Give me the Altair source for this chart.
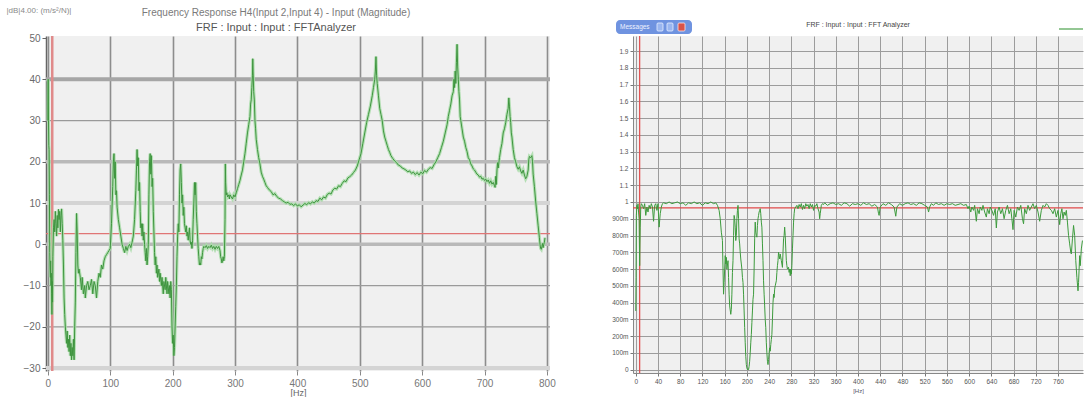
import altair as alt
import pandas as pd

# ---------------- data: left panel (FRF magnitude, dB) ----------------
left_freq = [0, 0.5, 1, 1.5, 2, 2.5, 3, 3.5, 4, 4.5, 5, 5.5, 6, 6.5, 7, 7.5, 8, 9, 10, 11, 12, 13, 14, 15, 16, 17, 18, 19, 20,
             21, 22, 23, 24, 25, 26, 27, 28, 29, 30, 31, 32, 33, 34, 35, 36, 37, 38, 39, 40, 41, 42, 43, 44, 45, 46, 47, 48,
             49, 50, 52, 54, 55, 57, 59, 60, 62, 64, 66, 68, 70, 72, 74, 76, 78, 80, 82, 84, 86, 88, 90, 92, 94, 96, 98, 100,
             102, 104, 105, 106, 107, 108, 109, 110, 111, 113, 115, 117, 119, 121, 123, 125, 127, 129, 131, 133, 135, 137, 139,
             141, 142, 143, 144, 145, 146, 147, 148, 149, 150, 151, 152, 153, 154, 155, 156, 157, 158, 159, 160, 161, 162, 163,
             164, 165, 166, 167, 168, 169, 170, 171, 172, 173, 174, 175, 176, 178, 179, 180, 182, 183, 185, 186, 188, 189, 191,
             192, 194, 195, 196, 197, 198, 199, 200, 201, 202, 203, 204, 205, 206, 207, 208, 209, 210, 211, 212, 213, 214, 215,
             216, 217, 218, 219, 220, 221, 222, 223, 224, 225, 226, 227, 228, 229, 230, 231, 232, 233, 234, 235, 236, 237, 238,
             239, 240, 241, 242, 243, 244, 245, 246, 247, 248, 249, 250, 252, 254, 256, 258, 260, 262, 264, 266, 268, 270, 272,
             274, 276, 277, 278, 279, 280, 281, 282, 283, 284, 284.5, 285, 286, 287, 288, 290, 291, 292, 294, 296, 298, 300,
             302, 304, 306, 308, 310, 312, 314, 316, 318, 320, 322, 324, 325, 326, 327, 328, 328.5, 329, 330, 331, 332, 333,
             334, 336, 338, 340, 342, 344, 346, 348, 350, 352, 355, 358, 361, 364, 367, 370, 373, 376, 379, 382, 385, 388, 391,
             394, 397, 400, 403, 406, 409, 412, 415, 418, 421, 424, 427, 430, 433, 436, 439, 442, 445, 448, 451, 454, 457, 460,
             463, 466, 469, 472, 475, 478, 481, 484, 487, 490, 493, 496, 499, 502, 505, 508, 511, 514, 517, 520, 522, 524, 525,
             526, 527, 528, 530, 532, 534, 536, 538, 540, 542, 544, 546, 548, 550, 553, 556, 559, 562, 565, 568, 571, 574, 577,
             580, 583, 586, 589, 592, 595, 598, 601, 604, 607, 610, 613, 616, 619, 622, 625, 628, 631, 634, 637, 640, 642, 644,
             646, 648, 650, 651, 652, 653, 654, 655, 656, 657, 658, 659, 660, 661, 662, 664, 666, 668, 670, 672, 674, 676, 678,
             680, 682, 684, 686, 688, 690, 692, 694, 696, 698, 700, 702, 704, 706, 708, 710, 712, 714, 716, 717, 718, 719, 720,
             721, 722, 724, 726, 728, 730, 732, 734, 736, 738, 739, 740, 741, 742, 743, 744, 746, 748, 750, 752, 754, 756, 758,
             760, 762, 764, 766, 768, 770, 771, 772, 774, 776, 777, 778, 780, 782, 784, 786, 788, 789, 790, 791, 792, 793, 794,
             795, 796, 797]
left_db = [30, 40, 30, 24, 23, 12, -2, -6, -8, -4, -10, -7, -12, -17, -9, -14, -3, 4, 6, 3, 8, 5, 2, 7, 4, 8.5, 6, 8, 3,
           7, 8.6, 5, 1, -5, -13, -17, -20, -22, -24, -21, -25, -23, -26, -22, -27, -24, -28, -25, -27, -23, -28, -20, -14, -2, 7.5, 3, -5,
           -7, -6, -8, -11, -8, -12, -10, -13, -10, -9, -11, -10, -8.5, -12, -9, -10, -13, -9, -7, -8, -5, -6, -4, -3, -2.5, -2, -1.5, -1,
           5, 14, 20, 22, 16, 20, 12, 13, 9, 6, 4, 2, 0, -1, -2, -0.5, -1.5, -0.5, 0, -0.8, 0.5, 2, 6,
           13, 18, 23, 19, 21, 13, 15, 8, 4, 5, 2, 5, 1, 3, 0, -2, -4, -1, -5, -3, 0, 12, 20,
           22, 17, 21.5, 14, 16, 8, 3, -2, -5, -3, -7, -5, -8, -6, -9, -7, -10, -8, -12, -9, -11, -8, -12,
           -9, -12, -10, -13, -9, -11, -20, -24, -22, -27, -25, -20, -15, -10, -3, 2, 5, 3, 12, 18, 19.5, 15, 10,
           12, 7, 9, 5, 4, 3, 4.5, 2, 3, 1, 2.5, 4, 1, 0, 0.5, -1, 1, 6, 10, 15, 12, 15, 8,
           5, 2, -1, -3, -5, -4.5, -5, -3, -3.5, -2, -1, -0.5, -0.8, -0.3, -1, -0.5, -0.8, -0.2, -1, -0.5, -1.2, -0.5, -1,
           -0.5, -1.5, -3, -3.5, -4.5, -4, -3, -4, -3, 6, 19.5, 15, 12, 12.5, 11.5, 12, 11, 12, 11.5, 11, 12, 11.5,
           12.5, 13.5, 14.5, 15.5, 16.8, 18, 20, 22, 24.5, 27, 29, 31, 34, 35, 38, 41, 45, 42, 37, 35, 30, 28,
           25.5, 23, 21, 19.5, 17.5, 16.5, 15.8, 15, 14.2, 13.8, 13.2, 12.8, 12, 12.3, 11.6, 11.2, 11, 10.6, 10.3, 10, 10.2, 9.7, 9.8,
           9.4, 9.8, 9.3, 9.6, 9.1, 9.5, 9.9, 9.6, 10.1, 9.8, 10.3, 10, 10.6, 10.4, 11.2, 10.8, 11.5, 11.2, 12.1, 12.4, 12.2, 13.2, 13.6,
           13.4, 14.2, 14, 14.8, 15.4, 15.2, 16.1, 16.4, 16.8, 17.4, 18, 19, 20.5, 22, 24.5, 27, 29.5, 31.5, 33.5, 36, 38, 40, 42,
           45.5, 41, 39, 36, 33, 31.5, 30, 27.5, 26, 25, 24, 23, 22.3, 21.5, 20.8, 20.2, 19.8, 19.2, 19, 18.5, 18.3, 18, 17.6,
           17.8, 17.2, 17.5, 16.9, 17.4, 16.8, 17.5, 17.1, 17.9, 17.5, 18.2, 18.6, 18.4, 19.3, 20, 21, 22, 23.5, 25, 27, 29, 31, 32.5,
           34, 36, 37, 40, 38, 42, 39, 44, 48.5, 43, 40, 37, 35, 31, 30, 28, 26, 25, 23.5, 22.5, 21, 20.5, 19.5,
           19, 18.3, 18, 17.5, 17, 16.8, 16.3, 16.5, 15.8, 16, 15.5, 15.8, 15.2, 15.6, 14.8, 15.4, 14.6, 15, 14.2, 13.8, 16.5, 14.5, 18,
           19.8, 18.5, 21, 23, 24.5, 27, 28, 29.5, 31.5, 33, 35.5, 33.5, 31, 29.5, 27, 26, 23, 21, 20, 18.8, 18.2, 18.8, 17.8,
           17.2, 18, 16.8, 15.9, 16.5, 18, 20.5, 21.3, 21, 21.5, 20, 17, 14, 10.5, 7.5, 4.5, 1.6, 0, -1, -1.2, -0.5, 0.2, -0.8,
           0, 0.5, 1.6]

# ---------------- data: right panel (coherence) ----------------
right_freq = [0, 0.5, 1, 2, 3, 4, 5, 6, 7, 8, 9, 10, 12, 14, 16, 18, 20, 22, 24, 26, 28, 30, 32, 34, 36, 38, 40, 42, 44, 46,
              48, 50, 55, 60, 65, 70, 75, 80, 85, 90, 95, 100, 105, 110, 115, 120, 125, 130, 135, 140, 144, 147, 150, 152,
              154, 156, 157, 158, 159, 160, 161, 162, 163, 164, 166, 167, 168, 169, 171, 172, 173, 174, 175, 176, 177, 178,
              179, 180, 181, 182, 183, 184, 185, 186, 187, 188, 189, 190, 191, 192, 193, 194, 195, 196, 197, 198, 199, 200,
              201, 202, 203, 204, 205, 206, 207, 208, 209, 210, 211, 212, 213, 214, 215, 216, 217, 218, 219, 220, 221, 222,
              223, 224, 225, 226, 227, 228, 229, 230, 231, 232, 233, 234, 235, 236, 237, 238, 239, 240, 241, 242, 243, 244,
              245, 246, 247, 248, 249, 250, 251, 253, 254, 255, 256, 257, 258, 259, 260, 262, 264, 265, 266, 267, 268, 269,
              270, 271, 272, 273, 275, 276, 277, 278, 279, 280, 281, 282, 283, 284, 285, 286, 288, 290, 292, 294, 296, 298,
              300, 302, 304, 306, 308, 310, 312, 314, 316, 318, 320, 322, 324, 326, 328, 330, 331, 332, 334, 336, 338, 340,
              345, 350, 355, 360, 365, 370, 375, 380, 385, 390, 395, 400, 405, 410, 415, 420, 425, 430, 435, 437, 438, 440,
              445, 450, 455, 460, 465, 468, 470, 475, 480, 485, 490, 495, 500, 505, 510, 515, 520, 525, 527, 529, 532, 536,
              540, 545, 550, 555, 560, 565, 570, 575, 580, 585, 590, 595, 598, 600, 603, 605, 608, 610, 613, 615, 618, 620,
              623, 625, 628, 631, 633, 636, 638, 641, 644, 647, 649, 651, 654, 657, 660, 663, 666, 669, 672, 675, 677, 679,
              681, 684, 687, 690, 693, 696, 698, 700, 703, 706, 709, 712, 715, 718, 721, 724, 727, 730, 733, 736, 739, 742,
              745, 748, 751, 754, 757, 760, 763, 765, 767, 769, 771, 773, 775, 777, 779, 781, 783, 784, 786, 788, 790, 792,
              794, 796, 797, 798, 799, 800, 802, 804]
right_coh = [0.35, 0.55, 0.92, 0.98, 0.96, 0.99, 0.94, 0.9, 0.62, 0.85, 0.97, 0.99, 0.98, 0.96, 0.99, 0.92, 0.97, 0.94, 0.98,
             0.96, 0.99, 0.97, 0.885, 0.98, 0.99, 0.95, 0.99, 0.85, 0.93, 0.97, 0.99, 0.995, 0.99, 1.0, 0.99, 0.995, 1.0,
             0.99, 0.995, 0.98, 0.995, 0.99, 1.0, 0.99, 0.995, 0.98, 0.995, 0.99, 1.0, 0.99, 0.995, 0.98, 0.95, 0.9, 0.82,
             0.77, 0.6, 0.45, 0.52, 0.6, 0.68, 0.63, 0.67, 0.6, 0.65, 0.55, 0.45, 0.38, 0.33, 0.36, 0.45, 0.58, 0.65, 0.8,
             0.92, 0.9, 0.85, 0.77, 0.8, 0.9, 0.95, 0.98, 0.9, 0.78, 0.75, 0.7, 0.66, 0.63, 0.6, 0.55, 0.52, 0.45, 0.35, 0.25,
             0.16, 0.08, 0.03, 0.01, 0.0, 0.005, 0.0, 0.02, 0.05, 0.1, 0.16, 0.21, 0.28, 0.35, 0.42, 0.45, 0.6, 0.78, 0.88,
             0.82, 0.8, 0.79, 0.86, 0.9, 0.92, 0.94, 0.95, 0.96, 0.93, 0.88, 0.85, 0.75, 0.65, 0.53, 0.45, 0.38, 0.3, 0.25,
             0.16, 0.1, 0.05, 0.03, 0.06, 0.1, 0.13, 0.11, 0.15, 0.18, 0.21, 0.3, 0.4, 0.45, 0.43, 0.48, 0.5, 0.53, 0.58,
             0.62, 0.65, 0.7, 0.68, 0.66, 0.69, 0.65, 0.61, 0.7, 0.78, 0.8, 0.85, 0.8, 0.72, 0.65, 0.62, 0.6, 0.61, 0.58, 0.6,
             0.56, 0.6, 0.57, 0.62, 0.72, 0.8, 0.88, 0.93, 0.96, 0.97, 0.98, 0.96, 0.985, 0.97, 0.99, 0.955, 0.98, 0.96, 0.99,
             0.975, 0.985, 0.96, 0.99, 0.97, 0.985, 0.95, 0.98, 0.975, 0.99, 0.96, 0.94, 0.9, 0.93, 0.98, 0.99, 0.985, 0.995,
             0.98, 0.99, 0.995, 0.985, 0.99, 0.98, 0.995, 0.99, 0.975, 0.99, 0.985, 0.99, 0.98, 0.995, 0.985, 0.99, 0.975,
             0.985, 0.97, 0.93, 0.92, 0.97, 0.99, 0.98, 0.995, 0.985, 0.97, 0.915, 0.97, 0.99, 0.98, 0.99, 0.995, 0.985, 0.99,
             0.98, 0.995, 0.99, 0.98, 0.97, 0.94, 0.97, 0.99, 0.98, 0.995, 0.985, 0.99, 0.98, 0.99, 0.985, 0.99, 0.98, 0.985,
             0.99, 0.98, 0.985, 0.96, 0.975, 0.94, 0.97, 0.95, 0.98, 0.885, 0.96, 0.93, 0.97, 0.95, 0.98, 0.94, 0.91, 0.96,
             0.93, 0.97, 0.95, 0.92, 0.96, 0.845, 0.94, 0.97, 0.93, 0.96, 0.9, 0.95, 0.98, 0.93, 0.96, 0.9, 0.835, 0.95, 0.91,
             0.97, 0.95, 0.98, 0.9, 0.87, 0.96, 0.93, 0.98, 0.95, 0.97, 0.99, 0.96, 0.98, 0.94, 0.885, 0.95, 0.98, 0.97, 0.99,
             0.98, 0.96, 0.95, 0.93, 0.96, 0.91, 0.95, 0.865, 0.93, 0.96, 0.9, 0.94, 0.92, 0.95, 0.88, 0.8, 0.75, 0.7, 0.69,
             0.78, 0.86, 0.8, 0.65, 0.55, 0.47, 0.52, 0.6, 0.68, 0.62, 0.72, 0.77]

# ---------------- ticks, reference lines and labels ----------------
left_xticks = [0, 100, 200, 300, 400, 500, 600, 700, 800]
left_yticks = [-30, -20, -10, 0, 10, 20, 30, 40, 50]
left_grid_dark = [40]
left_grid_thick = [20, 0]
left_grid_band = [10, -30]
left_grid_thin = [30, -10, -20]
left_cursor_x = [7]
left_cursor_y = [2.6]

right_xticks = [0, 40, 80, 120, 160, 200, 240, 280, 320, 360, 400, 440, 480, 520, 560, 600, 640, 680, 720, 760]
right_yticks = [0, 0.1, 0.2, 0.3, 0.4, 0.5, 0.6, 0.7, 0.8, 0.9, 1.0, 1.1, 1.2, 1.3, 1.4, 1.5, 1.6, 1.7, 1.8, 1.9]
right_cursor_x = [7]
right_cursor_y = [0.965]

left_title = "Frequency Response H4(Input 2,Input 4) - Input (Magnitude)"
left_subtitle = "FRF : Input : Input : FFTAnalyzer"
left_unit = "|dB|4.00: (m/s²/N)|"
right_title = "FRF : Input : Input : FFT Analyzer"
window_label = ["Messages"]
series_name = ["FRF"]

FONT = "Liberation Sans"

# ---------------- left panel ----------------
lxs = alt.Scale(domain=[-3, 805], nice=False, zero=False)
lys = alt.Scale(domain=[-30.7, 50.5], nice=False, zero=False)

left_df = pd.DataFrame({"f": left_freq, "v": left_db})

x_axis_l = alt.Axis(values=left_xticks, title="[Hz]", titleFontSize=9, titleFontWeight="normal",
                    titleColor="#666", titlePadding=0, labelFontSize=10, labelColor="#777", labelPadding=3,
                    tickColor="#888", tickSize=4, domain=False, grid=True, gridColor="#8d8d8d", gridWidth=1.6)
y_axis_l = alt.Axis(values=left_yticks, title=left_unit, titleAngle=0, titleAlign="left", titleBaseline="middle",
                    titleX=-40, titleY=-26, titleFontSize=8, titleFontWeight="normal", titleColor="#8a8a8a",
                    labelFontSize=10, labelColor="#6a6a6a", tickColor="#666", tickSize=4, domainColor="#666",
                    domainWidth=1.5, grid=False)


def hrules(values, color, width):
    return alt.Chart(pd.DataFrame({"g": values})).mark_rule(color=color, strokeWidth=width).encode(
        y=alt.Y("g:Q", scale=lys, axis=y_axis_l))


left_base = alt.Chart(left_df).encode(
    x=alt.X("f:Q", scale=lxs, axis=x_axis_l),
    y=alt.Y("v:Q", scale=lys, axis=y_axis_l),
)

left_layers = [
    hrules(left_grid_band, "#d4d4d4", 4),
    hrules(left_grid_thin, "#9a9a9a", 1.2),
    hrules(left_grid_thick, "#b9b9b9", 3.5),
    hrules(left_grid_dark, "#a6a6a6", 4),
    alt.Chart(pd.DataFrame({"c": left_cursor_y})).mark_rule(color="#e07575", strokeWidth=1.3).encode(
        y=alt.Y("c:Q", scale=lys, axis=y_axis_l)),
    alt.Chart(pd.DataFrame({"c": left_cursor_x})).mark_rule(color="#e08a8a", strokeWidth=2.5).encode(
        x=alt.X("c:Q", scale=lxs, axis=x_axis_l)),
    left_base.mark_line(color="#a9dca9", strokeWidth=3.2, opacity=0.85, interpolate="linear"),
    left_base.mark_line(color="#3f953f", strokeWidth=1.0, interpolate="linear"),
]

left = alt.layer(*left_layers).properties(
    width=504, height=335,
    title=alt.TitleParams(text=left_title, subtitle=left_subtitle, anchor="middle", frame="group", dx=-22,
                          offset=-27, fontSize=10, fontWeight="normal", color="#7a7a7a", subtitleFontSize=11,
                          subtitleColor="#555", subtitlePadding=4, font=FONT, subtitleFont=FONT),
)

# ---------------- right panel ----------------
rxs = alt.Scale(domain=[-5, 805], nice=False, zero=False)
rys = alt.Scale(domain=[-0.02, 1.99], nice=False, zero=False)

right_df = pd.DataFrame({"f": right_freq, "c": right_coh, "s": series_name * len(right_freq)})

x_axis_r = alt.Axis(values=right_xticks, title="[Hz]", titleFontSize=6, titleFontWeight="normal", titleColor="#556",
                    titlePadding=3, labelFontSize=6.5, labelColor="#555", labelPadding=2, tickColor="#777",
                    tickSize=3, domainColor="#888", grid=True, gridColor="#9c9c9c", gridWidth=1)
y_axis_r = alt.Axis(values=right_yticks, title="",
                    labelExpr="datum.value < 0.05 ? '0' : (datum.value < 0.95 ? format(datum.value * 1000, 'd') + 'm' : (datum.value < 1.05 ? '1' : format(datum.value, '.1f')))",
                    labelFontSize=6.5, labelColor="#555", labelPadding=2, tickColor="#777", tickSize=3,
                    domainColor="#888", grid=True, gridColor="#9c9c9c", gridWidth=1)

right_line = alt.Chart(right_df).mark_line(strokeWidth=1.0).encode(
    x=alt.X("f:Q", scale=rxs, axis=x_axis_r),
    y=alt.Y("c:Q", scale=rys, axis=y_axis_r),
    color=alt.Color("s:N", title="", scale=alt.Scale(range=["#3d9b3d"]),
                    legend=alt.Legend(orient="none", legendX=425, legendY=-20, symbolType="stroke",
                                      symbolSize=576, symbolStrokeWidth=2, labelExpr="''", padding=0,
                                      labelFontSize=1, labelLimit=1, symbolOpacity=0.55)),
)

win_df = pd.DataFrame({"t": window_label})
window_bar = alt.Chart(win_df).mark_rect(color="#6f93e0", cornerRadius=4).encode(
    x=alt.value(-17), x2=alt.value(59), y=alt.value(-16), y2=alt.value(-2))
window_text = alt.Chart(win_df).mark_text(color="#eef2ff", fontSize=6.5, align="left", baseline="middle", font=FONT).encode(
    x=alt.value(-13), y=alt.value(-9), text="t:N")
btn1 = alt.Chart(win_df).mark_rect(color="#9ab6f0", stroke="#e6eeff", strokeWidth=0.8, cornerRadius=1).encode(
    x=alt.value(24), x2=alt.value(30), y=alt.value(-13), y2=alt.value(-5))
btn2 = alt.Chart(win_df).mark_rect(color="#9ab6f0", stroke="#e6eeff", strokeWidth=0.8, cornerRadius=1).encode(
    x=alt.value(34), x2=alt.value(40), y=alt.value(-13), y2=alt.value(-5))
btn3 = alt.Chart(win_df).mark_rect(color="#d9534a", stroke="#ffe6e6", strokeWidth=0.8, cornerRadius=1).encode(
    x=alt.value(45), x2=alt.value(52), y=alt.value(-13), y2=alt.value(-5))

right_layers = [
    alt.Chart(pd.DataFrame({"c": right_cursor_y})).mark_rule(color="#e04a4a", strokeWidth=1.2).encode(
        y=alt.Y("c:Q", scale=rys, axis=y_axis_r)),
    alt.Chart(pd.DataFrame({"c": right_cursor_x})).mark_rule(color="#e04a4a", strokeWidth=1.2).encode(
        x=alt.X("c:Q", scale=rxs, axis=x_axis_r)),
    right_line,
    window_bar, window_text, btn1, btn2, btn3,
]

right = alt.layer(*right_layers).properties(
    width=450, height=337,
    title=alt.TitleParams(text=right_title, anchor="middle", frame="group", offset=-12, fontSize=7,
                          fontWeight="normal", color="#444", font=FONT),
)

chart = alt.hconcat(left, right, spacing=83, bounds="flush").resolve_legend(color="independent").properties(
    padding={"left": 6, "top": 6, "right": 0, "bottom": 0},
    background="white",
).configure(font=FONT).configure_view(fill="#f0f0f0", strokeWidth=0).configure_axis(
    labelFont=FONT, titleFont=FONT)

chart.save("out.html", embed_options={"renderer": "svg", "actions": False})
